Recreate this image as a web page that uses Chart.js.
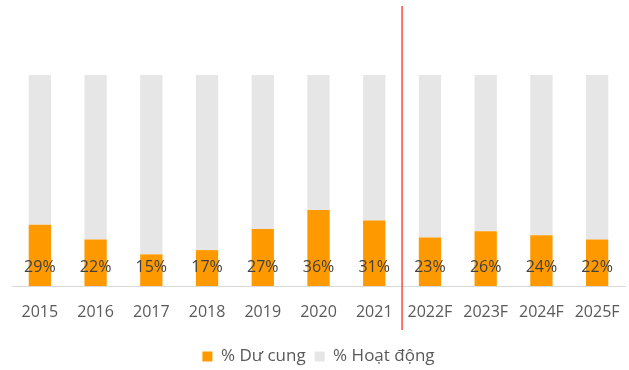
<!DOCTYPE html>
<html>
<head>
<meta charset="utf-8">
<script src="https://cdn.jsdelivr.net/npm/chart.js@4.4.1/dist/chart.umd.min.js"></script>
<style>
  html, body { margin: 0; padding: 0; background: #fff; }
  #wrap { width: 629px; height: 370px; }
</style>
</head>
<body>
<div id="wrap"><canvas id="chart" width="629" height="370"></canvas></div>
<script>
const years = ["2015", "2016", "2017", "2018", "2019", "2020", "2021", "2022F", "2023F", "2024F", "2025F"];
const oversupply = [29, 22, 15, 17, 27, 36, 31, 23, 26, 24, 22];
const operating = [71, 78, 85, 83, 73, 64, 69, 77, 74, 76, 78];

const FONT = "'Open Sans', 'Liberation Sans', sans-serif";

// percent labels sit near the foot of each orange bar
const barLabels = {
  id: "barLabels",
  afterDatasetsDraw(chart) {
    const ctx = chart.ctx;
    const meta = chart.getDatasetMeta(0);
    ctx.save();
    ctx.font = "16px " + FONT;
    ctx.fillStyle = "#404040";
    ctx.textAlign = "center";
    ctx.textBaseline = "middle";
    meta.data.forEach((bar, i) => {
      ctx.fillText(oversupply[i] + "%", bar.x, chart.chartArea.bottom - 19);
    });
    ctx.restore();
  }
};

// red divider between actuals and forecast
const forecastLine = {
  id: "forecastLine",
  afterDraw(chart) {
    const x = chart.scales.x;
    const px = (x.getPixelForTick(6) + x.getPixelForTick(7)) / 2;
    const ctx = chart.ctx;
    ctx.save();
    ctx.strokeStyle = "#f24c4c";
    ctx.lineWidth = 1.5;
    ctx.beginPath();
    ctx.moveTo(px, 6);
    ctx.lineTo(px, 330);
    ctx.stroke();
    ctx.restore();
  }
};

new Chart(document.getElementById("chart"), {
  type: "bar",
  data: {
    labels: years,
    datasets: [
      {
        label: "% Dư cung",
        data: oversupply,
        backgroundColor: "#ff9900",
        categoryPercentage: 1,
        barPercentage: 0.4
      },
      {
        label: "% Hoạt động",
        data: operating,
        backgroundColor: "#e6e6e6",
        categoryPercentage: 1,
        barPercentage: 0.4
      }
    ]
  },
  options: {
    responsive: false,
    animation: false,
    layout: { padding: { top: 75, left: 12, right: 4, bottom: -5 } },
    scales: {
      x: {
        stacked: true,
        grid: { display: false },
        border: { color: "#d9d9d9", width: 1 },
        ticks: { color: "#595959", font: { family: FONT, size: 16 }, padding: 9 },
        afterFit(scale) { scale.height = 53; }
      },
      y: {
        stacked: true,
        display: false,
        min: 0,
        max: 100
      }
    },
    plugins: {
      legend: {
        position: "bottom",
        labels: {
          color: "#595959",
          font: { family: FONT, size: 17 },
          boxWidth: 10,
          boxHeight: 10,
          padding: 9
        }
      },
      tooltip: { enabled: false }
    }
  },
  plugins: [barLabels, forecastLine]
});
</script>
</body>
</html>
